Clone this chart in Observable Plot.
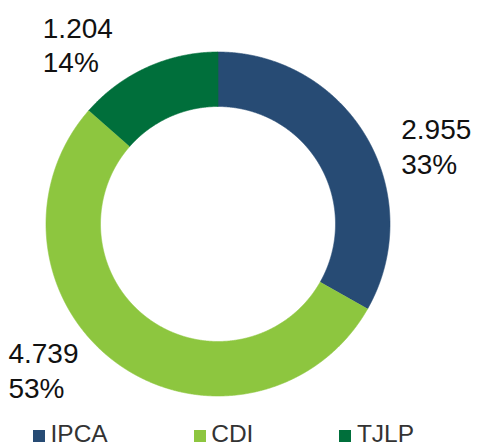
<!DOCTYPE html>
<html><head><meta charset="utf-8">
<script src="https://cdn.jsdelivr.net/npm/d3@7"></script>
<script src="https://cdn.jsdelivr.net/npm/@observablehq/plot@0.6"></script>
<style>
body{margin:0;background:#fff;overflow:hidden;font-family:"Liberation Sans",Arial,sans-serif;}
#legend{display:flex;gap:86px;padding-left:33px;font-size:24.5px;line-height:24.5px;color:#333;white-space:nowrap}
.item{display:inline-block}
.sw{display:inline-block;width:12px;height:12px;margin-right:5.5px;vertical-align:baseline}
</style></head><body><div id="chart"></div><div id="legend"></div>
<script>
// ---- data ----
const categories = ["IPCA", "CDI", "TJLP"];
const values = [2955, 4739, 1204];
const valueLabels = ["2.955", "4.739", "1.204"];
const percentLabels = ["33%", "53%", "14%"];
const colors = ["#274b74", "#8dc63f", "#006f3b"];

// ---- layout ----
const W = 477, H = 422, cx = 217.5, cy = 223.5, R = 172, innerRatio = 117.5 / 172;
const labelRadius = 1.30;
// manual label nudges (px), as placed in the original
const nudge = {IPCA: [-10, 34], CDI: [-80, -37], TJLP: [-83, 23.5]};

const pie = d3.pie().sort(null).value(d => d.value)(
  categories.map((name, i) => ({name, value: values[i], vl: valueLabels[i], pl: percentLabels[i]}))
);

const ring = [];
for (const s of pie) {
  const n = Math.max(2, Math.ceil((s.endAngle - s.startAngle) / 0.004));
  for (let k = 0; k <= n; k++) {
    const a = s.startAngle + (s.endAngle - s.startAngle) * k / n;
    ring.push({name: s.data.name, x: Math.sin(a), y: Math.cos(a)});
  }
  for (let k = n; k >= 0; k--) {
    const a = s.startAngle + (s.endAngle - s.startAngle) * k / n;
    ring.push({name: s.data.name, x: innerRatio * Math.sin(a), y: innerRatio * Math.cos(a)});
  }
}

const labels = pie.map(s => {
  const a = (s.startAngle + s.endAngle) / 2;
  const [nx, ny] = nudge[s.data.name];
  return {
    name: s.data.name,
    x: labelRadius * Math.sin(a) + nx / R,
    y: labelRadius * Math.cos(a) - ny / R,
    text: s.data.vl + "\n" + s.data.pl
  };
});

const chart = Plot.plot({
  width: W, height: H, margin: 0,
  style: {fontFamily: '"Liberation Sans", Arial, sans-serif', background: "#fff"},
  x: {domain: [-cx / R, (W - cx) / R], range: [0, W], axis: null},
  y: {domain: [(cy - H) / R, cy / R], range: [H, 0], axis: null},
  color: {domain: categories, range: colors},
  marks: [
    Plot.line(ring, {x: "x", y: "y", z: "name", fill: "name", stroke: "name", strokeWidth: 0.6, curve: "linear"}),
    Plot.text(labels, {x: "x", y: "y", text: "text", textAnchor: "start", lineAnchor: "middle",
      lineHeight: 1.25, fontSize: 28, fill: "#111"})
  ]
});
document.getElementById("chart").appendChild(chart);

const legend = document.getElementById("legend");
categories.forEach((c, i) => {
  const it = document.createElement("span");
  it.className = "item";
  const sw = document.createElement("span");
  sw.className = "sw";
  sw.style.background = colors[i];
  it.appendChild(sw);
  it.appendChild(document.createTextNode(c));
  legend.appendChild(it);
});
</script></body></html>
